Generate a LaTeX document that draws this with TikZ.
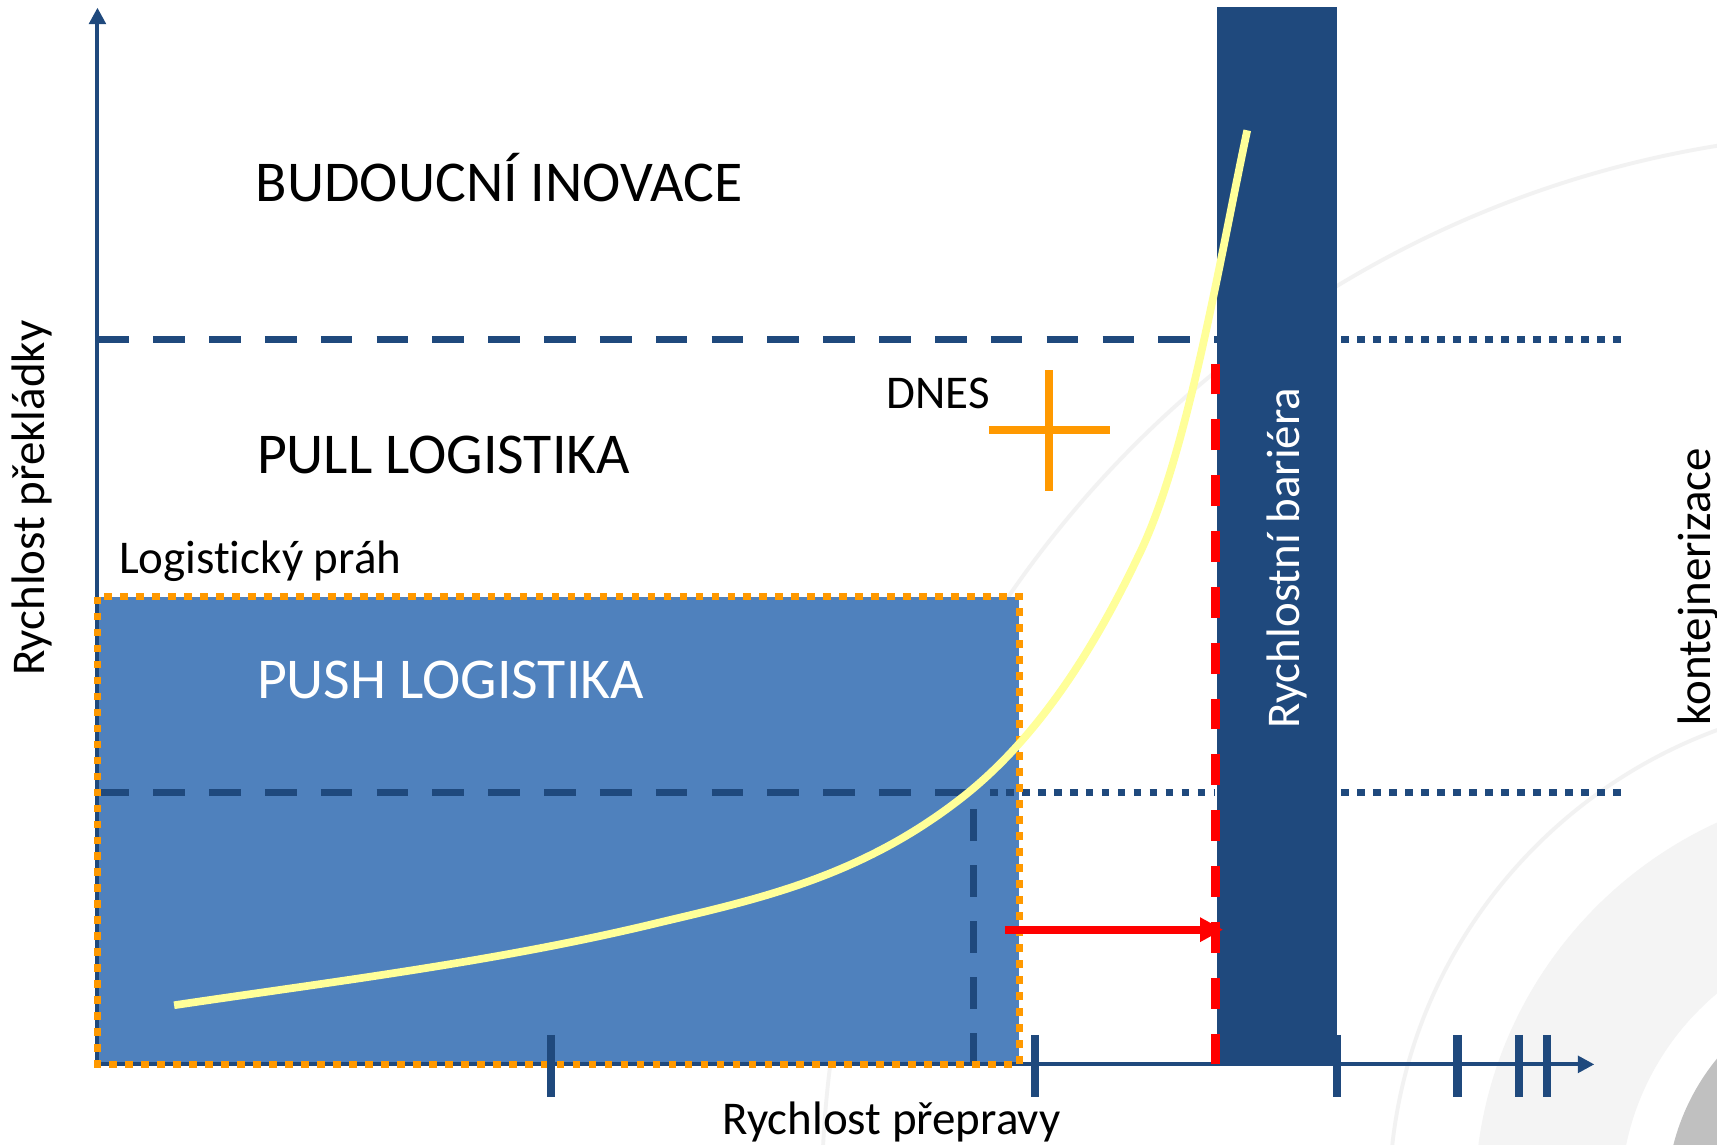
\documentclass[tikz,border=0pt]{standalone}
\usepackage{fontspec}
\setmainfont{Carlito}[Ligatures=NoCommon]
\usetikzlibrary{arrows.meta}

\definecolor{axisblue}{HTML}{1F497D}
\definecolor{pushblue}{HTML}{4F81BD}
\definecolor{dnesorange}{HTML}{FF9900}
\definecolor{curveyellow}{HTML}{FFFF99}
\definecolor{arcgray}{HTML}{F2F2F2}
\definecolor{bandgray}{HTML}{F4F4F4}
\definecolor{diskgray}{HTML}{C0C0C0}

\begin{document}
\begin{tikzpicture}[x=0.01cm, y=-0.01cm,
        every node/.style={inner sep=0pt},
        bigtext/.style={font=\fontsize{15pt}{18pt}\selectfont, anchor=base west},
        smalltext/.style={font=\fontsize{12.2pt}{14pt}\selectfont, anchor=base west},
        levelline/.style={axisblue, line width=1.85pt, dash pattern=on 8.2pt off 6.3pt},
        dotline/.style={axisblue, line width=1.9pt, dash pattern=on 2pt off 2.15pt},
        axisline/.style={axisblue, line width=1.05pt, -{Triangle[length=4.3pt, width=4.3pt]}}]
    \fill[white] (0,0) rectangle (1568,1045);
    \useasboundingbox (0,0) rectangle (1568,1045);

    % background rings
    \begin{scope}
        \clip (0,0) rectangle (1568,1045);
        \fill[bandgray, even odd rule] (1726,1096) circle[radius=3.79cm] circle[radius=2.46cm];
        \fill[diskgray] (1726,1096) circle[radius=2.04cm];
        \draw[arcgray, line width=1pt] (1726,1096) circle[radius=9.75cm];
        \draw[arcgray, line width=1pt] (1726,1096) circle[radius=4.57cm];
    \end{scope}

    % push area
    \fill[pushblue] (89,545) rectangle (931,972);

    % levels
    \draw[levelline] (89,310) -- (1111,310);
    \draw[levelline] (89,724) -- (885,724);
    \draw[levelline] (889,972) -- (889,724);
    \draw[dotline] (904,724) -- (1110,724);
    \draw[dotline] (1225,310) -- (1483,310);
    \draw[dotline] (1225,724) -- (1481,724);

    % axes
    \coordinate (origin) at (89,972);
    \coordinate (ytip) at (89,7);
    \coordinate (xtip) at (1456,972);
    \draw[axisline] (origin) -- (ytip);
    \draw[axisline] (origin) -- (xtip);

    \draw[dnesorange, line width=1.9pt, dash pattern=on 2pt off 2.15pt] (89,545) rectangle (931,972);

    % barrier
    \fill[axisblue] (1111,6) rectangle (1221,972);
    \foreach \x in {503,945,1221,1331,1387,1413}
        {\draw[axisblue, line width=2.1pt] (\x,945) -- (\x,1002);}

    \draw[red, line width=2.2pt, dash pattern=on 8pt off 6.5pt] (1110,972) -- (1110,331);

    \draw[curveyellow, line width=2pt] (159,918)
        .. controls (307,896) and (456,878) .. (604,842)
        .. controls (697,820) and (791,799) .. (884,724)
        .. controls (944,675) and (994,603) .. (1039,509)
        .. controls (1084,419) and (1114,236) .. (1139,119);

    \coordinate (shiftstart) at (918,849);
    \coordinate (shiftend) at (1117,849);
    \draw[red, line width=2pt, -{Triangle[length=6pt, width=6pt]}] (shiftstart) -- (shiftend);

    % today
    \draw[dnesorange, line width=2.1pt] (958,338) -- (958,448);
    \draw[dnesorange, line width=2.1pt] (903,393) -- (1014,393);

    % labels
    \node[bigtext] (budoucni) at (233,184) {BUDOUCNÍ INOVACE};
    \node[bigtext] (pull) at (234,432) {PULL LOGISTIKA};
    \node[bigtext, white] (push) at (234,638) {PUSH LOGISTIKA};
    \node[smalltext] (prah) at (108,524) {Logistický práh};
    \node[smalltext] (dnes) at (809,373) {DNES};
    \node[smalltext] (xlabel) at (659,1036) {Rychlost přepravy};
    \node[smalltext, rotate=90] (ylabel) at (41,618) {Rychlost překládky};
    \node[smalltext, rotate=90, white] (bariera) at (1187,666) {Rychlostní bariéra};
    \node[smalltext, rotate=90] (kontejner) at (1562,663) {kontejnerizace};
\end{tikzpicture}
\end{document}
